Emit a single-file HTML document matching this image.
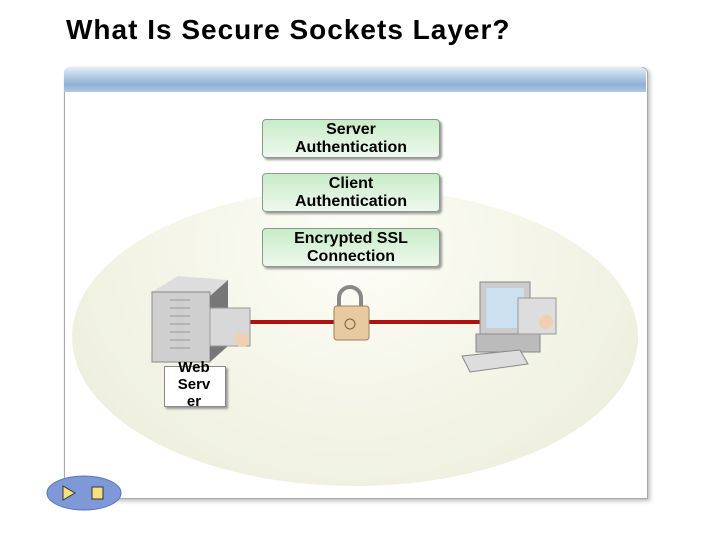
<!DOCTYPE html>
<html><head><style>
body{margin:0;width:720px;height:540px;background:#fff;position:relative;overflow:hidden;font-family:"Liberation Sans",sans-serif}
.t{position:absolute;left:66px;top:14px;font-size:28px;font-weight:bold;letter-spacing:1px;color:#000}
.box{position:absolute;left:262px;width:178px;height:39px;border:1px solid #8a9a8a;border-radius:4px;background:linear-gradient(#c8ecc8,#eef8ee);box-shadow:2px 2px 2px #999;font-weight:bold;font-size:16px;text-align:center;line-height:18px;padding-top:1px;box-sizing:border-box}
</style></head><body>
<div class="t">What Is Secure Sockets Layer?</div>
<div style="position:absolute;left:64px;top:67px;width:582px;height:430px;border:1px solid #aaa;border-radius:6px 6px 0 0;box-shadow:2px 2px 4px #bbb;background:#fff"></div>
<div style="position:absolute;left:64px;top:67px;width:582px;height:25px;border-radius:6px 6px 0 0;background:linear-gradient(#e4eef8,#8fb0d4 70%,#b0c8e2)"></div>
<div style="position:absolute;left:72px;top:188px;width:566px;height:298px;border-radius:50%;background:radial-gradient(ellipse at 50% 20%,#fdfdf6,#eaecd8)"></div>
<div class="box" style="top:119px">Server<br>Authentication</div>
<div class="box" style="top:173px">Client<br>Authentication</div>
<div class="box" style="top:228px">Encrypted SSL<br>Connection</div>
<div style="position:absolute;left:250px;top:320px;width:230px;height:4px;background:#b01010"></div>
<svg style="position:absolute;left:0;top:0" width="720" height="540">
<path d="M339 308 V298 a11 11 0 0 1 22 0 V308" fill="none" stroke="#888" stroke-width="4"/>
<rect x="334" y="306" width="35" height="34" rx="3" fill="#e8caa0" stroke="#a08060"/>
<circle cx="350" cy="324" r="5" fill="none" stroke="#806040"/>
<polygon points="152,292 178,276 228,280 210,296" fill="#ddd"/>
<rect x="152" y="292" width="58" height="70" fill="#cfcfcf" stroke="#888"/>
<polygon points="210,296 228,280 228,346 210,362" fill="#777"/>
<g stroke="#999">
<line x1="170" y1="300" x2="190" y2="300"/><line x1="170" y1="308" x2="190" y2="308"/><line x1="170" y1="316" x2="190" y2="316"/><line x1="170" y1="324" x2="190" y2="324"/><line x1="170" y1="332" x2="190" y2="332"/><line x1="170" y1="340" x2="190" y2="340"/><line x1="170" y1="348" x2="190" y2="348"/></g>
<rect x="210" y="308" width="40" height="38" fill="#d8d8d8" stroke="#999"/>
<circle cx="242" cy="340" r="7" fill="#f0d0b0"/>
<rect x="480" y="282" width="50" height="52" fill="#ccc" stroke="#888"/>
<rect x="486" y="288" width="38" height="40" fill="#cde0f0"/>
<rect x="476" y="334" width="64" height="18" fill="#bbb" stroke="#888"/>
<polygon points="462,356 520,350 528,364 470,372" fill="#ddd" stroke="#888"/>
<rect x="518" y="298" width="38" height="36" fill="#ddd" stroke="#999"/>
<circle cx="546" cy="322" r="7" fill="#f0d0b0"/>
<ellipse cx="84" cy="493" rx="37" ry="17" fill="#7f98d8" stroke="#5a74b8"/>
<polygon points="63,486 63,500 75,493" fill="#f8e080" stroke="#333"/>
<rect x="92" y="487" width="11" height="12" fill="#f8e080" stroke="#333"/>
</svg>
<div style="position:absolute;left:164px;top:366px;width:60px;height:39px;border:1px solid #888;background:#fff;box-shadow:2px 2px 2px #999"></div>
<div style="position:absolute;left:164px;top:359px;width:60px;text-align:center;font-size:15px;font-weight:bold;line-height:17px">Web<br>Serv<br>er</div>
</body></html>
